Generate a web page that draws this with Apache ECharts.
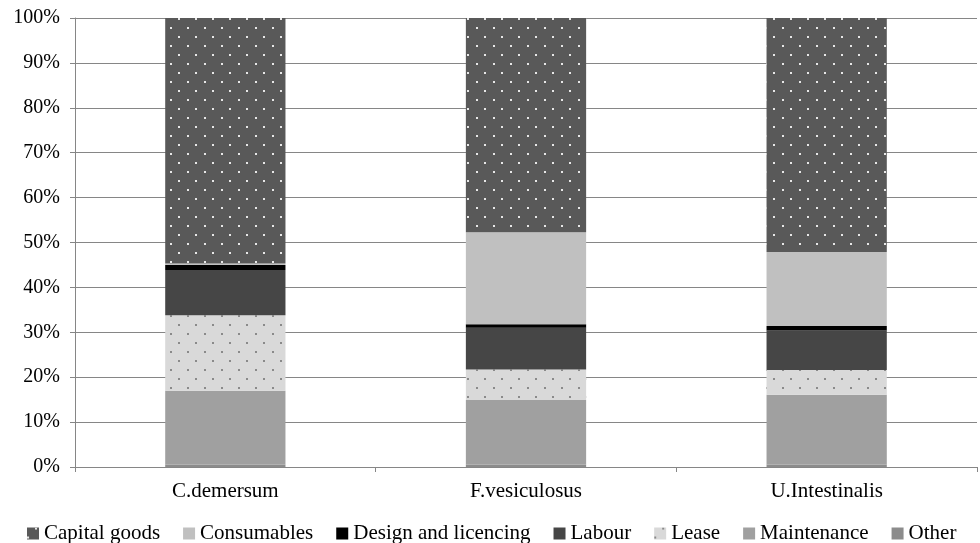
<!DOCTYPE html>
<html>
<head>
<meta charset="utf-8">
<script src="https://cdn.jsdelivr.net/npm/echarts@6/dist/echarts.min.js"></script>
<style>
  html, body { margin: 0; padding: 0; background: #ffffff; }
  #chart { width: 980px; height: 543px; }
</style>
</head>
<body>
<div id="chart"></div>
<script>
// Cost breakdown (share of total, %) per species
const categories = ['C.demersum', 'F.vesiculosus', 'U.Intestinalis'];
const other = [0.5, 0.5, 0.5];
const maintenance = [16.5, 14.4, 15.6];
const lease = [16.8, 6.8, 5.5];
const labour = [10.1, 9.3, 8.8];
const design = [1.1, 0.8, 1.0];
const consumables = [0.3, 20.5, 16.5];
const capitalGoods = [54.7, 47.7, 52.1];
const yTicks = [0, 10, 20, 30, 40, 50, 60, 70, 80, 90, 100];
const legendOrder = ['Capital goods', 'Consumables', 'Design and licencing', 'Labour', 'Lease', 'Maintenance', 'Other'];

const FONT = '"Liberation Serif", "Times New Roman", serif';
const AXIS_GREY = '#868686';

// dotted fill used by two of the stacked segments
function dots(color) {
  return {
    symbol: 'rect',
    symbolSize: 1,
    color: color,
    dashArrayX: [[2, 15], [0, 8, 2, 7]],
    dashArrayY: [2, 7],
    rotation: 0
  };
}

function seg(name, data, color, decal) {
  const s = {
    name: name,
    type: 'bar',
    stack: 'total',
    barCategoryGap: '60%',
    data: data,
    itemStyle: { color: color },
    emphasis: { disabled: true }
  };
  if (decal) s.itemStyle.decal = decal;
  return s;
}

const chart = echarts.init(document.getElementById('chart'), null, { renderer: 'canvas' });
chart.setOption({
  animation: false,
  backgroundColor: '#ffffff',
  textStyle: { fontFamily: FONT },
  grid: { left: 75, right: 3, top: 18, bottom: 76, containLabel: false },
  legend: {
    data: legendOrder,
    top: 518,
    left: 22,
    itemWidth: 12,
    itemHeight: 12,
    itemGap: 23,
    icon: 'rect',
    textStyle: { fontFamily: FONT, fontSize: 21, color: '#000000' },
    selectedMode: false
  },
  xAxis: {
    type: 'category',
    data: categories,
    axisLine: { lineStyle: { color: AXIS_GREY, width: 1 } },
    axisTick: { show: true, alignWithLabel: false, length: 5, lineStyle: { color: AXIS_GREY } },
    axisLabel: { fontFamily: FONT, fontSize: 21, color: '#000000', margin: 14 },
    splitLine: { show: false }
  },
  yAxis: {
    type: 'value',
    min: 0,
    max: 100,
    interval: 10,
    axisLine: { show: true, lineStyle: { color: AXIS_GREY, width: 1 } },
    axisTick: { show: true, length: 5, lineStyle: { color: AXIS_GREY } },
    axisLabel: {
      fontFamily: FONT, fontSize: 20, color: '#000000', margin: 15,
      formatter: function (v) { return yTicks.indexOf(v) >= 0 ? v + '%' : ''; }
    },
    splitLine: { show: true, lineStyle: { color: AXIS_GREY, width: 1 } }
  },
  series: [
    seg('Other', other, '#8c8c8c'),
    seg('Maintenance', maintenance, '#a0a0a0'),
    seg('Lease', lease, '#d9d9d9', dots('#8a8a8a')),
    seg('Labour', labour, '#464646'),
    seg('Design and licencing', design, '#000000'),
    seg('Consumables', consumables, '#c0c0c0'),
    seg('Capital goods', capitalGoods, '#595959', dots('#e8e8e8'))
  ]
});
</script>
</body>
</html>
